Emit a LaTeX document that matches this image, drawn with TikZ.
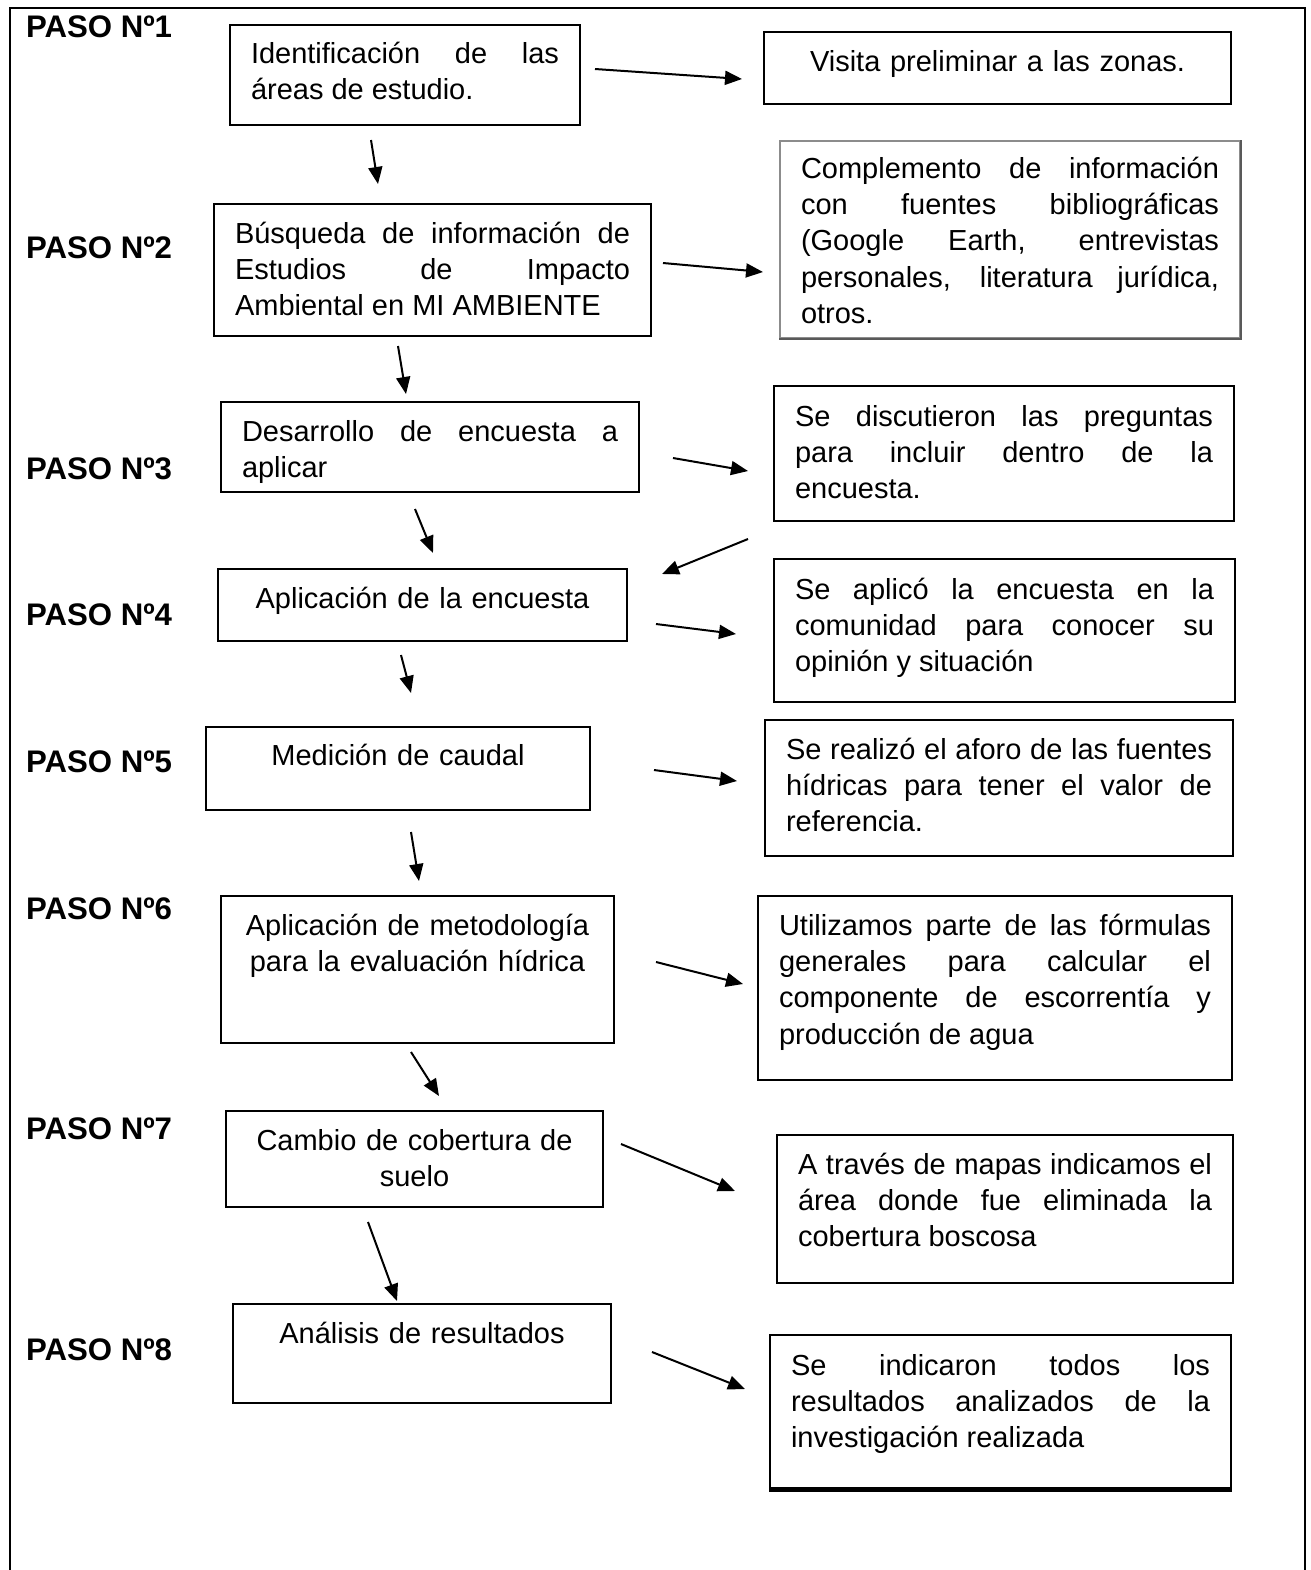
\documentclass[tikz,border=0pt]{standalone}
\usepackage{fontspec}
\setmainfont{Liberation Sans}
\usetikzlibrary{arrows.meta}
\newlength\px
\setlength\px{0.5pt}
\tolerance=10000
\hbadness=10000
\hyphenpenalty=10000

\begin{document}
\begin{tikzpicture}[x=\px, y=-\px, line width=1pt,
    every node/.style={font=\fontsize{14.5pt}{18.2pt}\selectfont},
    paso/.style={font=\fontsize{15.6pt}{18pt}\selectfont\bfseries, anchor=west, inner sep=0pt},
    stepbox/.style n args={4}{draw, anchor=north west, inner ysep=0pt, inner xsep=21\px,
        text width=#1\px, text height=#2\px, text depth=#3\px, align=#4},
    arr/.style={-{Triangle[length=8.5pt, width=7pt]}}]
    \useasboundingbox (0,0) rectangle (1311,1570);
    % outer frame, open at the bottom
    \draw (10,1590) -- (10,8) -- (1305,8) -- (1305,1590);

    % step labels
    \node[paso] (p1) at (25,27) {PASO Nº1};
    \node[paso] (p2) at (25,248) {PASO Nº2};
    \node[paso] (p3) at (25,469) {PASO Nº3};
    \node[paso] (p4) at (25,615) {PASO Nº4};
    \node[paso] (p5) at (25,762) {PASO Nº5};
    \node[paso] (p6) at (25,909) {PASO Nº6};
    \node[paso] (p7) at (25,1129) {PASO Nº7};
    \node[paso] (p8) at (25,1350) {PASO Nº8};

    % left column
    \node[stepbox={308}{38}{62}{justify}] (l1) at (229,24) {Identificación de las\linebreak áreas de estudio.};
    \node[stepbox={395}{39}{93}{justify}] (l2) at (213,203) {Búsqueda de información de\linebreak Estudios de Impacto\linebreak Ambiental en MI AMBIENTE};
    \node[stepbox={376}{39}{51}{justify}] (l3) at (220,401) {Desarrollo de encuesta a\linebreak aplicar};
    \node[stepbox={367}{39}{33}{center}] (l4) at (217,568) {Aplicación de la encuesta};
    \node[stepbox={342}{38}{45}{center}] (l5) at (205,726) {Medición de caudal};
    \node[stepbox={351}{39}{108}{center}] (l6) at (220,895) {Aplicación de metodología\\para la evaluación hídrica};
    \node[stepbox={335}{39}{57}{center}] (l7) at (225,1110) {Cambio de cobertura de\\suelo};
    \node[stepbox={336}{39}{60}{center}] (l8) at (232,1303) {Análisis de resultados};

    % right column
    \node[stepbox={425}{39}{33}{center}] (r1) at (763,31) {Visita preliminar a las zonas.};
    \node[stepbox={418}{37}{160}{justify}, draw=black!45] (r2) at (779,140) {Complemento de información\linebreak con fuentes bibliográficas\linebreak (Google Earth, entrevistas\linebreak personales, literatura jurídica,\linebreak otros.};
    \draw[black!65, line width=1.4pt] (r2.north east) -- (r2.south east) -- (r2.south west);
    \node[stepbox={418}{40}{95}{justify}] (r3) at (773,385) {Se discutieron las preguntas\linebreak para incluir dentro de la\linebreak encuesta.};
    \node[stepbox={419}{40}{103}{justify}] (r4) at (773,558) {Se aplicó la encuesta en la\linebreak comunidad para conocer su\linebreak opinión y situación};
    \node[stepbox={426}{39}{97}{justify}] (r5) at (764,719) {Se realizó el aforo de las fuentes\linebreak hídricas para tener el valor de\linebreak referencia.};
    \node[stepbox={432}{39}{145}{justify}] (r6) at (757,895) {Utilizamos parte de las fórmulas\linebreak generales para calcular el\linebreak componente de escorrentía y\linebreak producción de agua};
    \node[stepbox={414}{39}{109}{justify}] (r7) at (776,1134) {A través de mapas indicamos el\linebreak área donde fue eliminada la\linebreak cobertura boscosa};
    \node[stepbox={419}{40}{113}{justify}] (r8) at (769,1334) {Se indicaron todos los\linebreak resultados analizados de la\linebreak investigación realizada};
    \draw[line width=1.3pt] ([yshift=-0.8pt]r8.south west) -- ([yshift=-0.8pt]r8.south east);

    % arrows
    \draw[arr] ([shift={(14,-6)}]l1.east) -- ([shift={(-21,11)}]r1.west);
    \draw[arr] ([shift={(-34,14)}]l1.south) -- ([shift={(-54.5,-19)}]l2.north);
    \draw[arr] ([shift={(11,-7)}]l2.east) -- ([shift={(-16,32.5)}]r2.west);
    \draw[arr] ([shift={(-34.5,9)}]l2.south) -- ([shift={(-24,-7)}]l3.north);
    \draw[arr] ([shift={(33,11)}]l3.east) -- ([shift={(-25,17.5)}]r3.west);
    \draw[arr] ([shift={(-15,16)}]l3.south) -- ([shift={(10.5,-15)}]l4.north);
    \draw[arr] ([shift={(-256,17)}]r3.south) -- ([shift={(34,6)}]l4.north east);
    \draw[arr] ([shift={(28,19)}]l4.east) -- ([shift={(-37,3.5)}]r4.west);
    \draw[arr] ([shift={(-21.5,13)}]l4.south) -- ([shift={(13,-33)}]l5.north);
    \draw[arr] ([shift={(63,1.5)}]l5.east) -- ([shift={(-27,-7)}]r5.west);
    \draw[arr] ([shift={(13,21)}]l5.south) -- ([shift={(1.5,-14)}]l6.north);
    \draw[arr] ([shift={(41,-7.5)}]l6.east) -- ([shift={(-14,-4)}]r6.west);
    \draw[arr] ([shift={(-6.5,8)}]l6.south) -- ([shift={(24.5,-14)}]l7.north);
    \draw[arr] ([shift={(17,-15)}]l7.east) -- ([shift={(-41,-18)}]r7.west);
    \draw[arr] ([shift={(-46.5,14)}]l7.south) -- ([shift={(-25,-2)}]l8.north);
    \draw[arr] ([shift={(40,-1.5)}]l8.east) -- ([shift={(-24,-22.5)}]r8.west);
\end{tikzpicture}
\end{document}
